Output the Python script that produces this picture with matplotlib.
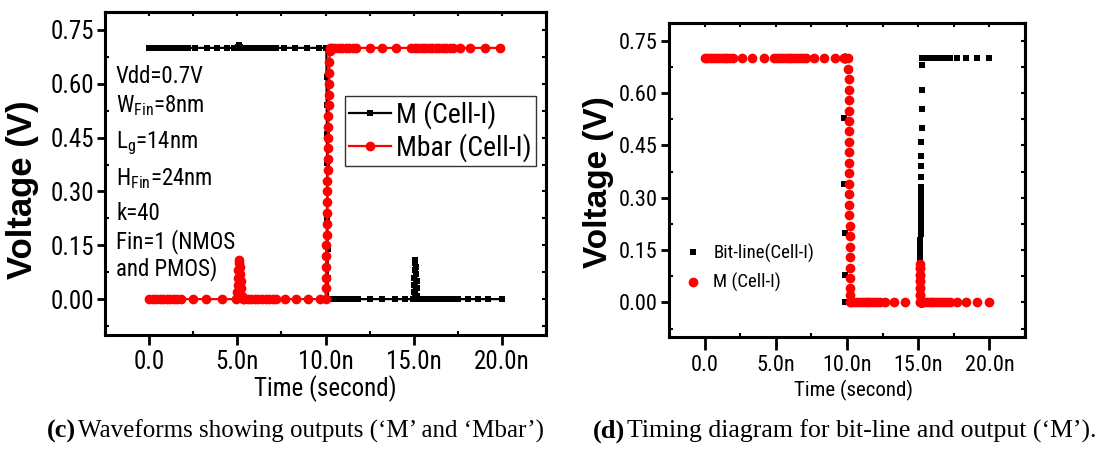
import matplotlib
matplotlib.use("Agg")
import matplotlib.pyplot as plt
from matplotlib import font_manager

# ---------------- data: panel (c) ----------------
m_c_t = [0.0, 0.2, 0.4, 0.6, 0.8, 1.0, 1.2, 1.4, 1.6, 1.8, 2.0, 2.2,
         2.6, 3.27, 3.84, 4.4,
         4.8, 5.0, 5.05, 5.1, 5.15, 5.2, 5.4, 5.6, 5.8, 6.0, 6.2, 6.4, 6.6, 6.8, 7.0, 7.2,
         7.65, 8.25, 8.95, 9.65,
         10.05, 10.06, 10.07, 10.08, 10.09, 10.1, 10.11, 10.12, 10.13, 10.14,
         10.25, 10.45, 10.65, 10.85, 11.05, 11.25, 11.45, 11.65, 11.85,
         12.5, 13.2, 13.95, 14.5,
         14.95, 15.0, 15.02, 15.04, 15.06, 15.08, 15.1, 15.12, 15.14, 15.16, 15.18, 15.2, 15.3,
         15.4, 15.6, 15.8, 16.0, 16.2, 16.4, 16.6, 16.8, 17.0, 17.2,
         17.5, 18.1, 18.65, 19.2, 20.0]
m_c_v = [0.7, 0.7, 0.7, 0.7, 0.7, 0.7, 0.7, 0.7, 0.7, 0.7, 0.7, 0.7,
         0.7, 0.7, 0.7, 0.7,
         0.7, 0.7, 0.703, 0.707, 0.703, 0.7, 0.7, 0.7, 0.7, 0.7, 0.7, 0.7, 0.7, 0.7, 0.7, 0.7,
         0.7, 0.7, 0.7, 0.7,
         0.7, 0.62, 0.54, 0.46, 0.38, 0.3, 0.22, 0.14, 0.06, 0.0,
         0.0, 0.0, 0.0, 0.0, 0.0, 0.0, 0.0, 0.0, 0.0,
         0.0, 0.0, 0.0, 0.0,
         0.0, 0.02, 0.04, 0.06, 0.08, 0.1, 0.11, 0.09, 0.07, 0.05, 0.03, 0.01, 0.0,
         0.0, 0.0, 0.0, 0.0, 0.0, 0.0, 0.0, 0.0, 0.0, 0.0,
         0.0, 0.0, 0.0, 0.0, 0.0]

mbar_c_t = [0.0, 0.2, 0.4, 0.6, 0.8, 1.0, 1.2, 1.4, 1.6, 1.8,
            2.5, 3.23, 4.12,
            4.95, 5.0, 5.02, 5.04, 5.06, 5.08, 5.1, 5.13, 5.16, 5.19, 5.22, 5.25, 5.3,
            5.4, 5.6, 5.8, 6.0, 6.2, 6.4, 6.6, 6.8, 7.0, 7.2,
            7.7, 8.35, 9.0, 9.7,
            10.0, 10.01, 10.02, 10.03, 10.04, 10.05, 10.06, 10.07, 10.08, 10.09, 10.1, 10.11,
            10.12, 10.13, 10.14, 10.15, 10.16, 10.17, 10.18, 10.19, 10.2, 10.21, 10.22, 10.23, 10.24,
            10.35, 10.55, 10.75, 10.95, 11.15, 11.35, 11.55, 11.75,
            12.5, 13.2, 14.0,
            14.85, 15.05, 15.25, 15.45, 15.65, 15.85, 16.05, 16.25, 16.45, 16.65, 16.85, 17.05, 17.25,
            17.64, 18.2, 19.06, 19.9]
mbar_c_v = [0.0, 0.0, 0.0, 0.0, 0.0, 0.0, 0.0, 0.0, 0.0, 0.0,
            0.0, 0.0, 0.0,
            0.0, 0.02, 0.04, 0.06, 0.08, 0.1, 0.11, 0.09, 0.07, 0.05, 0.03, 0.01, 0.0,
            0.0, 0.0, 0.0, 0.0, 0.0, 0.0, 0.0, 0.0, 0.0, 0.0,
            0.0, 0.0, 0.0, 0.0,
            0.0, 0.03, 0.06, 0.09, 0.12, 0.15, 0.18, 0.21, 0.24, 0.27, 0.3, 0.33,
            0.36, 0.39, 0.42, 0.45, 0.48, 0.51, 0.54, 0.57, 0.6, 0.63, 0.66, 0.69, 0.7,
            0.7, 0.7, 0.7, 0.7, 0.7, 0.7, 0.7, 0.7,
            0.7, 0.7, 0.7,
            0.7, 0.7, 0.7, 0.7, 0.7, 0.7, 0.7, 0.7, 0.7, 0.7, 0.7, 0.7, 0.7,
            0.7, 0.7, 0.7, 0.7]

# ---------------- data: panel (d) (shared simulation time) ----------------
t_d = [0.0, 0.2, 0.4, 0.6, 0.8, 1.0, 1.2, 1.4, 1.6, 1.8, 2.0,
       2.6, 3.3, 4.2,
       4.9, 5.1, 5.3, 5.5, 5.7, 5.9, 6.1, 6.3, 6.5, 6.7, 6.9, 7.1,
       7.7, 8.35, 9.15,
       9.8, 9.82, 9.84, 9.86, 9.88,
       10.1, 10.105, 10.11, 10.115, 10.12, 10.125, 10.13, 10.135, 10.14, 10.145, 10.15, 10.155,
       10.16, 10.165, 10.17, 10.175, 10.18, 10.185, 10.19, 10.195, 10.2, 10.205, 10.21, 10.215, 10.22,
       10.3, 10.5, 10.7, 10.9, 11.1, 11.3, 11.5, 11.7, 11.9, 12.1, 12.3,
       12.7, 13.3, 14.1,
       15.1, 15.105, 15.11, 15.115, 15.12, 15.125, 15.13, 15.135, 15.14, 15.145, 15.15, 15.155,
       15.16, 15.165, 15.17, 15.175, 15.18, 15.185, 15.19, 15.195, 15.2, 15.205, 15.21, 15.215,
       15.22, 15.225, 15.23, 15.235, 15.24, 15.245, 15.25, 15.255,
       15.4, 15.6, 15.8, 16.0, 16.2, 16.4, 16.6, 16.8, 17.0, 17.2,
       17.7, 18.35, 19.15, 20.0]
bitline_v = [0.7, 0.7, 0.7, 0.7, 0.7, 0.7, 0.7, 0.7, 0.7, 0.7, 0.7,
             0.7, 0.7, 0.7,
             0.7, 0.7, 0.7, 0.7, 0.7, 0.7, 0.7, 0.7, 0.7, 0.7, 0.7, 0.7,
             0.7, 0.7, 0.7,
             0.53, 0.34, 0.2, 0.08, 0.0,
             0.0, 0.0, 0.0, 0.0, 0.0, 0.0, 0.0, 0.0, 0.0, 0.0, 0.0, 0.0,
             0.0, 0.0, 0.0, 0.0, 0.0, 0.0, 0.0, 0.0, 0.0, 0.0, 0.0, 0.0, 0.0,
             0.0, 0.0, 0.0, 0.0, 0.0, 0.0, 0.0, 0.0, 0.0, 0.0, 0.0,
             0.0, 0.0, 0.0,
             0.0, 0.015, 0.03, 0.045, 0.06, 0.075, 0.09, 0.105, 0.12, 0.135, 0.15, 0.165,
             0.18, 0.195, 0.21, 0.225, 0.24, 0.255, 0.27, 0.285, 0.3, 0.315, 0.33, 0.36,
             0.39, 0.42, 0.46, 0.5, 0.554, 0.61, 0.68, 0.7,
             0.7, 0.7, 0.7, 0.7, 0.7, 0.7, 0.7, 0.7, 0.7, 0.7,
             0.7, 0.7, 0.7, 0.7]
m_d_v = [0.7, 0.7, 0.7, 0.7, 0.7, 0.7, 0.7, 0.7, 0.7, 0.7, 0.7,
         0.7, 0.7, 0.7,
         0.7, 0.7, 0.7, 0.7, 0.7, 0.7, 0.7, 0.7, 0.7, 0.7, 0.7, 0.7,
         0.7, 0.7, 0.7,
         0.7, 0.7, 0.7, 0.7, 0.7,
         0.7, 0.67, 0.64, 0.61, 0.58, 0.55, 0.52, 0.49, 0.46, 0.43, 0.4, 0.37,
         0.34, 0.31, 0.28, 0.25, 0.22, 0.19, 0.16, 0.13, 0.1, 0.07, 0.04, 0.02, 0.0,
         0.0, 0.0, 0.0, 0.0, 0.0, 0.0, 0.0, 0.0, 0.0, 0.0, 0.0,
         0.0, 0.0, 0.0,
         0.0, 0.02, 0.04, 0.06, 0.08, 0.1, 0.11, 0.1, 0.08, 0.06, 0.04, 0.02,
         0.0, 0.0, 0.0, 0.0, 0.0, 0.0, 0.0, 0.0, 0.0, 0.0, 0.0, 0.0,
         0.0, 0.0, 0.0, 0.0, 0.0, 0.0, 0.0, 0.0,
         0.0, 0.0, 0.0, 0.0, 0.0, 0.0, 0.0, 0.0, 0.0, 0.0,
         0.0, 0.0, 0.0, 0.0]

x_ticks = [0, 5, 10, 15, 20]
x_ticklabels = ["0.0", "5.0n", "10.0n", "15.0n", "20.0n"]
y_ticks = [0.0, 0.15, 0.30, 0.45, 0.60, 0.75]
y_ticklabels = ["0.00", "0.15", "0.30", "0.45", "0.60", "0.75"]
x_minor = [-2.5, 2.5, 7.5, 12.5, 17.5, 22.5]
y_minor = [-0.075, 0.075, 0.225, 0.375, 0.525, 0.675]

params_lines = ["Vdd=0.7V", r"W$_{\mathrm{Fin}}$=8nm", r"L$_{\mathrm{g}}$=14nm",
                r"H$_{\mathrm{Fin}}$=24nm", "k=40", "Fin=1 (NMOS", "and PMOS)"]

# ---------------- fonts: pick a narrow sans ----------------
entries = font_manager.fontManager.ttflist
names = {f.name for f in entries}
NARROW = None
scale = 1.0
for cand in ["Liberation Sans Narrow", "Arial Narrow", "Nimbus Sans Narrow",
             "Roboto Condensed", "Open Sans Condensed"]:
    if cand in names:
        NARROW = cand
        break
if NARROW is None:
    NARROW = "DejaVu Sans"
    scale = 0.83
    if any(f.name == "DejaVu Sans" and str(f.stretch) in ("condensed", "semi-condensed")
           for f in entries):
        plt.rcParams["font.stretch"] = "condensed"
    else:
        scale = 0.75

plt.rcParams["font.family"] = [NARROW, "DejaVu Sans"]
plt.rcParams["mathtext.fontset"] = "custom"
plt.rcParams["mathtext.rm"] = NARROW
plt.rcParams["mathtext.it"] = NARROW
plt.rcParams["mathtext.bf"] = NARROW

FS_TICK_C = 18 * scale
FS_TICK_D = 16 * scale
FS_LEG_C = 20 * scale
FS_LEG_D = 13.5 * scale
FS_PARAM = 16.5 * scale
FS_XLAB_C = 18 * scale
FS_XLAB_D = 15 * scale

W, H = 1112, 449
fig = plt.figure(figsize=(W / 100, H / 100), dpi=100)


def fx(px):
    return px / W


def fy(py):
    return 1 - py / H


def style_axes(ax, tick_fs, len_x):
    ax.set_xlim(-2.5, 22.5)
    ax.set_ylim(-0.1, 0.8)
    for s in ax.spines.values():
        s.set_linewidth(2.2)
    ax.set_xticks(x_ticks)
    ax.set_xticklabels(x_ticklabels, fontsize=tick_fs)
    ax.set_yticks(y_ticks)
    ax.set_yticklabels(y_ticklabels, fontsize=tick_fs)
    ax.set_xticks(x_minor, minor=True)
    ax.set_yticks(y_minor, minor=True)
    ax.tick_params(axis="x", which="major", direction="out", length=len_x, width=2, pad=4)
    ax.tick_params(axis="y", which="major", direction="out", length=6, width=2, pad=2)
    ax.tick_params(which="minor", direction="in", length=3, width=1.5)
    sec = ax.secondary_xaxis("top")
    sec.set_xticks(x_ticks)
    sec.set_xticks(x_minor, minor=True)
    sec.tick_params(axis="x", which="both", direction="in", length=3, width=1.5,
                    labeltop=False)
    for s in sec.spines.values():
        s.set_linewidth(2.2)
    sec = ax.secondary_yaxis("right")
    sec.set_yticks(y_ticks)
    sec.set_yticks(y_minor, minor=True)
    sec.tick_params(axis="y", which="both", direction="in", length=3, width=1.5,
                    labelright=False)
    for s in sec.spines.values():
        s.set_linewidth(2.2)


# ---------------- panel (c) ----------------
axc = fig.add_axes([fx(105), fy(335), fx(546) - fx(105), fy(12) - fy(335)])
style_axes(axc, FS_TICK_C, 7)
axc.plot(m_c_t, m_c_v, color="black", lw=1.6, marker="s", ms=4.6, mew=0,
         label="M (Cell-I)", zorder=3)
axc.plot(mbar_c_t, mbar_c_v, color="red", lw=1.6, marker="o", ms=7, mew=0,
         label="Mbar (Cell-I)", zorder=4)
leg = axc.legend(loc="upper left", bbox_to_anchor=((345 - 105) / 441, (335 - 96) / 323),
                 borderaxespad=0, frameon=True, fancybox=False, edgecolor="black",
                 fontsize=FS_LEG_C, handlelength=1.5, handletextpad=0.2, labelspacing=0.15,
                 borderpad=0.15)
leg.get_frame().set_linewidth(1.0)

param_baselines = [83, 112, 148, 185, 220, 248, 275]
for txt, yb in zip(params_lines, param_baselines):
    fig.text(fx(116), fy(yb), txt, fontsize=FS_PARAM, ha="left", va="baseline")

fig.text(fx(23), fy(190), "Voltage (V)", rotation=90, ha="center", va="center",
         fontsize=25, fontweight="bold", family=["Liberation Sans", "DejaVu Sans"],
         stretch="normal")
fig.text(fx(325), fy(389), "Time (second)", ha="center", va="center", fontsize=FS_XLAB_C)

# ---------------- panel (d) ----------------
axd = fig.add_axes([fx(669), fy(337.3), fx(1025) - fx(669), fy(23.3) - fy(337.3)])
style_axes(axd, FS_TICK_D, 9)
axd.plot(t_d, bitline_v, ls="none", color="black", marker="s", ms=4.2, mew=0,
         label="Bit-line(Cell-I)", zorder=3)
axd.plot(t_d, m_d_v, ls="none", color="red", marker="o", ms=7, mew=0,
         label="M (Cell-I)", zorder=4)
axd.legend(loc="center left", bbox_to_anchor=(0.045, (337.3 - 268) / 314), frameon=False,
           fontsize=FS_LEG_D, handlelength=0.8, handletextpad=0.7, labelspacing=0.55,
           borderaxespad=0, borderpad=0)

fig.text(fx(599), fy(182), "Voltage (V)", rotation=90, ha="center", va="center",
         fontsize=24, fontweight="bold", family=["Liberation Sans", "DejaVu Sans"],
         stretch="normal")
fig.text(fx(853), fy(390), "Time (second)", ha="center", va="center", fontsize=FS_XLAB_D)

# ---------------- captions ----------------
serif = ["Liberation Serif", "DejaVu Serif"]
fig.text(fx(47), fy(431), "(c)", fontsize=19, fontweight="bold", family=serif,
         ha="left", va="center", stretch="normal")
fig.text(fx(78), fy(431), "Waveforms showing outputs (\u2018M\u2019 and \u2018Mbar\u2019)",
         fontsize=18, family=serif, ha="left", va="center", stretch="normal")
fig.text(fx(593), fy(431), "(d)", fontsize=19, fontweight="bold", family=serif,
         ha="left", va="center", stretch="normal")
fig.text(fx(627), fy(431), "Timing diagram for bit-line and output (\u2018M\u2019).",
         fontsize=18.5, family=serif, ha="left", va="center", stretch="normal")

fig.savefig("out.png", dpi=100)
